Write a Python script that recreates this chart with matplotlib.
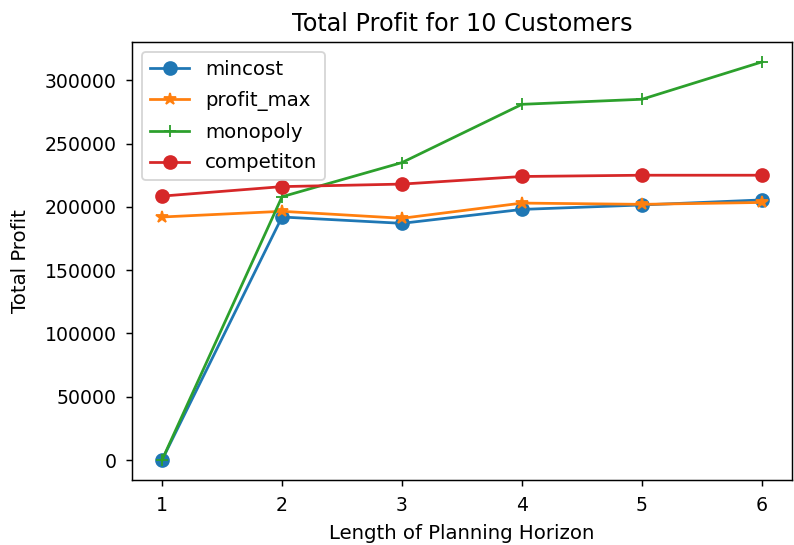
import matplotlib
matplotlib.use('Agg')
import matplotlib.pyplot as plt

horizon = [1, 2, 3, 4, 5, 6]

mincost = [0, 192000, 187000, 198000, 201500, 205500]
profit_max = [192000, 196500, 191000, 203000, 202000, 203500]
monopoly = [0, 208000, 235000, 281000, 285000, 314500]
competition = [208500, 216000, 218000, 224000, 225000, 225000]

DPI = 132
fig = plt.figure(figsize=(794 / DPI, 545 / DPI), dpi=DPI)
ax = fig.add_axes([132 / 794, 65 / 545, 660 / 794, 438 / 545])

ax.plot(horizon, mincost, marker='o', markersize=7, label='mincost')
ax.plot(horizon, profit_max, marker='*', markersize=7, label='profit_max')
ax.plot(horizon, monopoly, marker='+', markersize=7, label='monopoly')
ax.plot(horizon, competition, marker='o', markersize=7, label='competiton')

ax.set_title('Total Profit for 10 Customers', fontsize=13)
ax.set_xlabel('Length of Planning Horizon', fontsize=10.8, labelpad=5)
ax.set_ylabel('Total Profit', fontsize=10.8, labelpad=8)
ax.tick_params(labelsize=10.3, pad=5)
ax.legend(loc='upper left', fontsize=10.8, labelspacing=0.6)

fig.savefig('out.png', dpi=DPI)
